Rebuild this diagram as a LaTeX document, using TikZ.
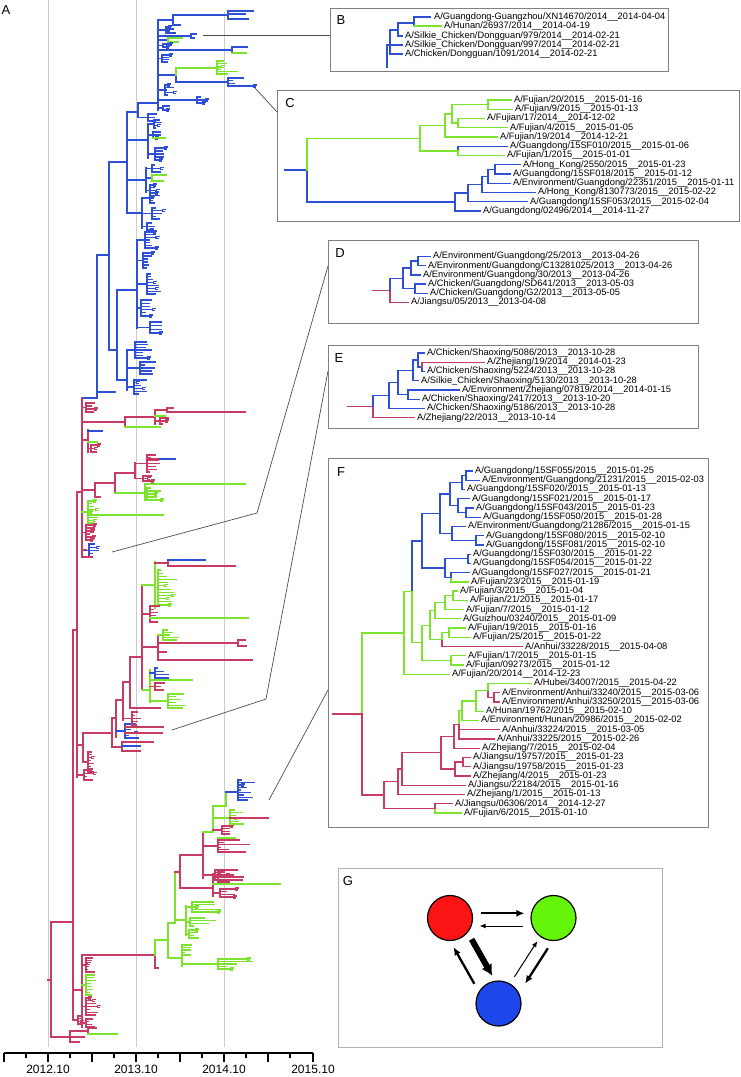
\documentclass[tikz,border=0pt]{standalone}
\usepackage{fontspec}
\setmainfont{Liberation Sans}
\usetikzlibrary{arrows.meta}

\definecolor{hblue}{RGB}{45,80,215}
\definecolor{hgreen}{RGB}{125,228,45}
\definecolor{hred}{RGB}{200,60,100}
\definecolor{popred}{RGB}{250,20,20}
\definecolor{popgreen}{RGB}{100,245,10}
\definecolor{popblue}{RGB}{30,70,235}

\newcommand{\taxfont}{\fontsize{9.3}{9.3}\selectfont}

% small clade: parent x, x, top, bottom, tips, max tip length, colour
\newcommand{\bush}[7]{%
  \pgfmathsetmacro{\bmid}{(#3+#4)/2}%
  \draw[twig,#7] (#1,\bmid) -- (#2,\bmid) (#2,#3) -- (#2,#4);
  \foreach \k in {1,...,#5}{%
    \pgfmathsetmacro{\tipy}{#3+(#4-#3)*(\k-1)/max(#5-1,1)}%
    \pgfmathsetmacro{\tipx}{#2+1.5+rnd*#6}%
    \draw[twig,#7] (#2,\tipy) -- (\tipx,\tipy);
    \pgfmathtruncatemacro{\fork}{rnd<0.25}%
    \ifnum\fork=1
      \draw[twig,#7] (\tipx,{\tipy-1}) -- (\tipx,{\tipy+1}) (\tipx,{\tipy-1}) -- ++(3,0) (\tipx,{\tipy+1}) -- ++(2,0);
    \fi
  }%
}

\begin{document}
\begin{tikzpicture}[
        x=1pt, y=-1pt,
        twig/.style={line width=1.05pt, line cap=rect},
        limb/.style={line width=1.3pt, line cap=rect},
        taxon/.style={anchor=west, inner sep=0pt, font=\taxfont},
        panel/.style={inner sep=0pt, font=\fontsize{13}{13}\selectfont},
        inset/.style={draw=black!50, line width=0.8pt, inner sep=0pt, anchor=north west},
        leader/.style={draw=black!70, line width=0.7pt},
        yearline/.style={draw=black!20, line width=1pt},
        axisrule/.style={line width=1.2pt},
        yearlab/.style={inner sep=0pt, font=\fontsize{12}{12}\selectfont},
        pop/.style={circle, draw=black, line width=1.2pt, minimum size=45pt, inner sep=0pt},
        flowthin/.style={-{Latex[length=6pt,width=5pt]}, line width=1pt},
        flowmid/.style={-{Latex[length=8pt,width=7pt]}, line width=2.3pt},
        flowthick/.style={-{Latex[length=11pt,width=12pt]}, line width=6pt},
        ]
        \useasboundingbox (0,0) rectangle (740,1077);
        \pgfmathsetseed{17}

        % Year lines and panel label
        \draw[yearline] (48,0) -- (48,1047);
        \draw[yearline] (136,0) -- (136,1047);
        \draw[yearline] (224,12) -- (224,1047);
        \node[panel] (labA) at (6,10) {A};

        % Blue clade
        \draw[twig,hblue] (82,398) -- (97,398) -- (97,255) -- (109,255);
        \draw[twig,hblue] (97,392) -- (115,392);
        \draw[twig,hblue] (109,162) -- (109,350);
        \draw[twig,hblue] (109,162) -- (127,162) (127,112) -- (127,213);
        \draw[twig,hblue] (127,112) -- (138,112) (138,103) -- (138,117);
        \bush{138}{148}{114}{121}{3}{8}{hblue}
        \draw[twig,hblue] (138,103) -- (158,103) (158,20) -- (158,110);
        \draw[twig,hblue] (158,20) -- (173,20) (173,15) -- (173,25) (173,15) -- (228,15) (228,11) -- (228,19)
            (228,11) -- (253,11) (228,14) -- (245,14) (228,19) -- (248,19) (173,25) -- (180,25);
        \bush{158}{166}{27}{33}{4}{12}{hblue}
        \draw[twig,hblue] (158,36) -- (191,36) (191,34) -- (191,38) (191,34) -- (196,34) (191,38) -- (194,38);
        \draw[twig,hblue] (158,40) -- (168,40);
        \draw[twig,hgreen] (168,38) -- (168,42) (168,38) -- (182,38) (168,42) -- (178,42);
        \bush{158}{163}{44}{47}{2}{6}{hblue}
        \draw[twig,hblue] (158,50) -- (232,50) (232,47) -- (232,53) (232,47) -- (247,47);
        \draw[twig,hgreen] (232,53) -- (246,53);
        \bush{158}{162}{55}{62}{4}{8}{hblue}
        \draw[twig,hblue] (158,75) -- (176,75) (176,75) -- (176,82) -- (228,82);
        \draw[twig,hgreen] (176,75) -- (176,68) -- (217,68);
        \bush{217}{217}{61}{74}{6}{28}{hgreen}
        \bush{228}{228}{78}{86}{4}{26}{hblue}
        \bush{158}{165}{85}{95}{5}{8}{hblue}
        \draw[twig,hblue] (158,100) -- (197,100);
        \bush{197}{197}{97}{103}{3}{8}{hblue}
        \bush{158}{163}{106}{110}{2}{6}{hblue}
        \draw[twig,hblue] (127,140) -- (148,140) (148,124) -- (148,158);
        \bush{148}{154}{120}{128}{4}{8}{hblue}
        \bush{148}{153}{132}{138}{3}{6}{hblue}
        \draw[twig,hgreen] (153,138) -- (165,138);
        \bush{148}{155}{148}{160}{5}{10}{hblue}
        \draw[twig,hblue] (127,180) -- (146,180) (146,168) -- (146,192);
        \bush{146}{152}{165}{172}{3}{8}{hblue}
        \draw[twig,hblue] (146,178) -- (152,178);
        \draw[twig,hgreen] (152,175) -- (152,181) (152,175) -- (166,175) (152,181) -- (163,181);
        \bush{146}{150}{185}{196}{5}{8}{hblue}
        \draw[twig,hblue] (127,213) -- (142,213) (142,198) -- (142,228);
        \bush{142}{150}{193}{203}{5}{8}{hblue}
        \bush{142}{152}{208}{219}{5}{10}{hblue}
        \bush{142}{147}{223}{230}{3}{8}{hblue}
        \draw[twig,hblue] (109,350) -- (117,350) (117,290) -- (117,380);
        \draw[twig,hblue] (117,290) -- (137,290) (137,240) -- (137,328);
        \bush{137}{145}{232}{248}{7}{12}{hblue}
        \bush{137}{143}{253}{268}{6}{10}{hblue}
        \bush{137}{147}{274}{294}{8}{12}{hblue}
        \bush{137}{141}{300}{316}{6}{10}{hblue}
        \bush{137}{150}{322}{333}{4}{12}{hblue}
        \draw[twig,hblue] (117,380) -- (127,380) (127,350) -- (127,390);
        \bush{127}{135}{342}{358}{7}{16}{hblue}
        \bush{127}{140}{362}{374}{5}{14}{hblue}
        \bush{127}{134}{380}{394}{6}{18}{hblue}

        % Backbone
        \draw[twig,hred] (48,980) -- (51,980) (51,922) -- (51,1037) (51,922) -- (73,922);
        \draw[twig,hred] (73,630) -- (73,1020) (73,630) -- (77,630);
        \draw[twig,hred] (77,492) -- (77,777) (77,492) -- (82,492) (82,398) -- (82,557);
        \bush{82}{86}{403}{412}{4}{8}{hred}

        % Red clades on the upper backbone
        \draw[twig,hred] (82,422) -- (125,422) (125,417) -- (125,427);
        \draw[twig,hred] (125,417) -- (155,417) (155,410) -- (155,424);
        \draw[twig,hred] (155,410) -- (167,410) (167,408) -- (167,412) (167,412) -- (245,412) (167,408) -- (173,408);
        \draw[twig,hgreen] (155,416) -- (165,416);
        \bush{155}{160}{418}{424}{3}{8}{hred}
        \draw[twig,hgreen] (125,427) -- (160,427);
        \draw[twig,hred] (82,440) -- (88,440) (88,430) -- (88,452);
        \draw[twig,hblue] (88,431) -- (102,431);
        \draw[twig,hgreen] (88,442) -- (97,442);
        \bush{88}{91}{445}{452}{3}{5}{hred}
        \draw[twig,hred] (82,490) -- (95,490) (95,483) -- (95,497) (95,497) -- (100,497);
        \draw[twig,hred] (95,483) -- (115,483) (115,473) -- (115,493);
        \draw[twig,hred] (115,473) -- (135,473) (135,463) -- (135,478);
        \bush{135}{147}{455}{472}{7}{14}{hred}
        \draw[twig,hred] (147,459) -- (160,459);
        \draw[twig,hblue] (160,459) -- (175,459);
        \bush{135}{143}{476}{481}{3}{8}{hred}
        \draw[twig,hgreen] (115,493) -- (145,493) (145,484) -- (145,500) (145,484) -- (245,484);
        \bush{145}{147}{488}{500}{5}{14}{hgreen}
        \draw[twig,hgreen] (82,512) -- (88,512);
        \bush{88}{88}{501}{523}{9}{8}{hgreen}
        \draw[twig,hgreen] (88,515) -- (163,515);
        \bush{82}{86}{525}{540}{6}{8}{hred}
        \draw[twig,hred] (82,550) -- (86,550);
        \bush{86}{89}{544}{557}{5}{9}{hblue}
        \draw[twig,hred] (82,557) -- (92,557);

        % Mixed clade 560-760
        \draw[twig,hred] (77,745) -- (83,745) (83,733) -- (83,762);
        \bush{83}{88}{752}{772}{8}{8}{hred}
        \bush{77}{84}{770}{780}{4}{8}{hred}
        \draw[twig,hred] (83,733) -- (112,733) (112,718) -- (112,747);
        \draw[twig,hred] (112,747) -- (122,747) (122,742) -- (122,751) (122,742) -- (153,742) (122,751) -- (140,751);
        \draw[twig,hblue] (122,746) -- (140,746);
        \draw[twig,hred] (112,718) -- (116,718) (116,700) -- (116,737);
        \bush{116}{125}{724}{738}{6}{16}{hblue}
        \draw[twig,hred] (125,727) -- (163,727) (125,733) -- (162,733);
        \draw[twig,hred] (116,700) -- (123,700) (123,682) -- (123,720);
        \bush{123}{132}{712}{725}{5}{10}{hred}
        \draw[twig,hred] (123,682) -- (130,682) (130,657) -- (130,708) (130,708) -- (160,708);
        \draw[twig,hred] (130,657) -- (142,657) (142,585) -- (142,690);
        \draw[twig,hgreen] (142,585) -- (155,585) (155,562) -- (155,608);
        \draw[twig,hred] (155,563) -- (168,563) (168,560) -- (168,566) (168,566) -- (235,566);
        \draw[twig,hblue] (168,560) -- (205,560);
        \bush{155}{158}{570}{605}{12}{18}{hgreen}
        \draw[twig,hred] (142,614) -- (150,614);
        \bush{150}{150}{606}{622}{6}{10}{hred}
        \draw[twig,hgreen] (150,618) -- (248,618);
        \draw[twig,hred] (142,647) -- (158,647) (158,635) -- (158,660);
        \bush{158}{163}{630}{640}{5}{18}{hgreen}
        \draw[twig,hred] (158,643) -- (238,643) (238,640) -- (238,646) (238,640) -- (245,640) (238,646) -- (246,646);
        \draw[twig,hred] (158,652) -- (166,652) (158,660) -- (252,660);
        \draw[twig,hgreen] (142,690) -- (150,690) (150,670) -- (150,702);
        \bush{150}{155}{668}{678}{4}{14}{hblue}
        \draw[twig,hgreen] (150,680) -- (192,680);
        \bush{150}{155}{683}{690}{3}{12}{hred}
        \bush{150}{168}{694}{708}{6}{18}{hgreen}

        % Lower clades
        \draw[twig,hred] (73,990) -- (82,990) (82,955) -- (82,1027);
        \bush{82}{86}{958}{972}{6}{8}{hred}
        \bush{82}{86}{975}{995}{8}{10}{hgreen}
        \bush{82}{86}{998}{1015}{7}{10}{hred}
        \bush{82}{86}{1019}{1027}{4}{8}{hred}
        \bush{73}{78}{1016}{1024}{4}{8}{hred}
        \draw[twig,hred] (51,1037) -- (70,1037) (70,1031) -- (70,1042) (70,1031) -- (88,1031) (88,1028) -- (88,1034)
            (88,1028) -- (96,1028) (70,1037) -- (84,1037) (70,1042) -- (79,1042);
        \draw[twig,hgreen] (88,1034) -- (117,1034);
        \draw[twig,hred] (82,955) -- (155,955) (155,955) -- (155,968) -- (158,968);
        \draw[twig,hgreen] (155,955) -- (155,940) -- (168,940) (168,923) -- (168,958);
        \draw[twig,hgreen] (168,958) -- (182,958) (182,948) -- (182,966);
        \bush{182}{182}{945}{955}{5}{12}{hgreen}
        \draw[twig,hgreen] (182,964) -- (218,964);
        \bush{218}{218}{959}{969}{5}{35}{hgreen}
        \draw[twig,hgreen] (168,923) -- (175,923) (175,872) -- (175,923) (175,920) -- (186,920) (186,906) -- (186,935);
        \bush{186}{192}{902}{912}{5}{40}{hgreen}
        \bush{186}{190}{918}{926}{4}{30}{hgreen}
        \bush{186}{189}{930}{938}{4}{8}{hgreen}
        \draw[twig,hred] (175,872) -- (180,872) (180,855) -- (180,888);
        \draw[twig,hred] (180,888) -- (213,888) (213,874) -- (213,896);
        \bush{213}{218}{872}{882}{5}{25}{hred}
        \draw[twig,hgreen] (213,884) -- (280,884);
        \bush{213}{220}{889}{897}{4}{15}{hred}
        \draw[twig,hred] (180,855) -- (203,855) (203,832) -- (203,878);
        \bush{203}{215}{870}{880}{5}{28}{hred}
        \bush{203}{218}{840}{852}{6}{30}{hred}
        \draw[twig,hgreen] (218,838) -- (235,838);
        \draw[twig,hgreen] (203,832) -- (213,832) (213,806) -- (213,832);
        \bush{213}{222}{826}{834}{4}{8}{hred}
        \draw[twig,hgreen] (213,818) -- (230,818);
        \bush{230}{230}{810}{824}{6}{15}{hgreen}
        \draw[twig,hred] (230,818) -- (268,818);
        \draw[twig,hgreen] (213,806) -- (226,806) (226,792) -- (226,806);
        \draw[twig,hblue] (226,792) -- (238,792);
        \bush{238}{238}{780}{800}{9}{16}{hblue}

        % Time axis
        \draw[axisrule] (4,1053) -- (313,1053);
        \foreach \x in {4,48,92,136,180,224,268,313}
            \draw[axisrule] (\x,1053) -- (\x,1062);
        \foreach \x in {26,70,114,158,202,246,290}
            \draw[axisrule] (\x,1053) -- (\x,1058);
        \node[yearlab] (yr2012) at (48,1069) {2012.10};
        \node[yearlab] (yr2013) at (136,1069) {2013.10};
        \node[yearlab] (yr2014) at (224,1069) {2014.10};
        \node[yearlab] (yr2015) at (313,1069) {2015.10};

        % Inset boxes
        \node[inset, minimum width=338pt, minimum height=63pt] (boxB) at (330,8) {};
        \node[inset, minimum width=462pt, minimum height=131pt] (boxC) at (277,90) {};
        \node[inset, minimum width=370pt, minimum height=83pt] (boxD) at (328,240) {};
        \node[inset, minimum width=370pt, minimum height=83pt] (boxE) at (328,345) {};
        \node[inset, minimum width=380pt, minimum height=369pt] (boxF) at (328,458) {};
        \node[inset, draw=black!30, minimum width=324pt, minimum height=179pt] (boxG) at (338,868) {};
        \node[panel] (labB) at (341,20) {B};
        \node[panel] (labC) at (290,103) {C};
        \node[panel] (labD) at (340,253) {D};
        \node[panel] (labE) at (339,358) {E};
        \node[panel] (labF) at (341,472) {F};
        \node[panel] (labG) at (348,881) {G};

        % Leaders
        \coordinate (bTip) at (203,35);
        \coordinate (bEnd) at (330,35);
        \coordinate (cTip) at (255,88);
        \coordinate (cEnd) at (277,112);
        \coordinate (dTip) at (112,552);
        \coordinate (dBend) at (257,513);
        \coordinate (dEnd) at (328,266);
        \coordinate (eTip) at (172,730);
        \coordinate (eBend) at (266,699);
        \coordinate (eEnd) at (328,371);
        \coordinate (fTip) at (269,800);
        \coordinate (fEnd) at (328,690);
        \draw[leader] (bTip) -- (bEnd);
        \draw[leader] (cTip) -- (cEnd);
        \draw[leader] (dTip) -- (dBend) -- (dEnd);
        \draw[leader] (eTip) -- (eBend) -- (eEnd);
        \draw[leader] (fTip) -- (fEnd);

        % Inset B
        \draw[limb,hblue] (387,67) -- (387,45) -- (390,45);
        \draw[limb,hblue] (402,54) -- (390,54) -- (390,30) -- (398,30) (390,45) -- (402,45);
        \draw[limb,hblue] (402,36) -- (398,36) -- (398,23) -- (414,23);
        \draw[limb,hblue] (430,17) -- (414,17) -- (414,26);
        \draw[limb,hgreen] (414,26) -- (441,26);
        \node[taxon] (b1) at (434,17) {A/Guangdong-Guangzhou/XN14670/2014\_\_2014-04-04};
        \node[taxon] (b2) at (444,26) {A/Hunan/26937/2014\_\_2014-04-19};
        \node[taxon] (b3) at (405,36) {A/Silkie\_Chicken/Dongguan/979/2014\_\_2014-02-21};
        \node[taxon] (b4) at (405,45) {A/Silkie\_Chicken/Dongguan/997/2014\_\_2014-02-21};
        \node[taxon] (b5) at (405,54) {A/Chicken/Dongguan/1091/2014\_\_2014-02-21};

        % Inset C
        \draw[limb,hblue] (285,170) -- (307,170) -- (307,202) -- (455,202);
        \draw[limb,hgreen] (307,170) -- (307,138.2) -- (420,138.2);
        \draw[limb,hgreen] (445,125.4) -- (420,125.4) -- (420,150.9) -- (458,150.9);
        \draw[limb,hgreen] (452,113.9) -- (445,113.9) -- (445,137) -- (497,137);
        \draw[limb,hgreen] (488,104.6) -- (452,104.6) -- (452,123.1) -- (458,123.1);
        \draw[limb,hgreen] (511,100) -- (488,100) -- (488,109.25) -- (512,109.25);
        \draw[limb,hgreen] (484,118.5) -- (458,118.5) -- (458,127.75) -- (507,127.75);
        \draw[limb,hblue] (507,146.25) -- (458,146.25) -- (458,150.9);
        \draw[limb,hgreen] (458,150.9) -- (458,155.5) -- (504,155.5);
        \draw[limb,hblue] (468,193.1) -- (455,193.1) -- (455,211) -- (480,211);
        \draw[limb,hblue] (482,184.4) -- (468,184.4) -- (468,201.75) -- (527,201.75);
        \draw[limb,hblue] (488,176.3) -- (482,176.3) -- (482,192.5) -- (535,192.5);
        \draw[limb,hblue] (495,169.4) -- (488,169.4) -- (488,183.25) -- (510,183.25);
        \draw[limb,hblue] (520,164.75) -- (495,164.75) -- (495,174) -- (510,174);
        \node[taxon] (c1) at (514,100) {A/Fujian/20/2015\_\_2015-01-16};
        \node[taxon] (c2) at (515,109.25) {A/Fujian/9/2015\_\_2015-01-13};
        \node[taxon] (c3) at (487,118.5) {A/Fujian/17/2014\_\_2014-12-02};
        \node[taxon] (c4) at (510,127.75) {A/Fujian/4/2015\_\_2015-01-05};
        \node[taxon] (c5) at (500,137) {A/Fujian/19/2014\_\_2014-12-21};
        \node[taxon] (c6) at (510,146.25) {A/Guangdong/15SF010/2015\_\_2015-01-06};
        \node[taxon] (c7) at (507,155.5) {A/Fujian/1/2015\_\_2015-01-01};
        \node[taxon] (c8) at (523,164.75) {A/Hong\_Kong/2550/2015\_\_2015-01-23};
        \node[taxon] (c9) at (513,174) {A/Guangdong/15SF018/2015\_\_2015-01-12};
        \node[taxon] (c10) at (513,183.25) {A/Environment/Guangdong/22351/2015\_\_2015-01-11};
        \node[taxon] (c11) at (538,192.5) {A/Hong\_Kong/8130773/2015\_\_2015-02-22};
        \node[taxon] (c12) at (530,201.75) {A/Guangdong/15SF053/2015\_\_2015-02-04};
        \node[taxon] (c13) at (483,211) {A/Guangdong/02496/2014\_\_2014-11-27};

        % Inset D
        \draw[limb,hred] (373,290.4) -- (390,290.4) -- (390,302.5) -- (408,302.5);
        \draw[limb,hblue] (390,290.4) -- (390,278.4) -- (403,278.4);
        \draw[limb,hblue] (411,268) -- (403,268) -- (403,288.7) -- (415,288.7);
        \draw[limb,hblue] (418,261.1) -- (411,261.1) -- (411,274.9) -- (420,274.9);
        \draw[limb,hblue] (430,256.5) -- (418,256.5) -- (418,265.7) -- (425,265.7);
        \draw[limb,hblue] (425,284.1) -- (415,284.1) -- (415,293.3) -- (427,293.3);
        \node[taxon] (d1) at (433,256.5) {A/Environment/Guangdong/25/2013\_\_2013-04-26};
        \node[taxon] (d2) at (428,265.7) {A/Environment/Guangdong/C13281025/2013\_\_2013-04-26};
        \node[taxon] (d3) at (423,274.9) {A/Environment/Guangdong/30/2013\_\_2013-04-26};
        \node[taxon] (d4) at (428,284.1) {A/Chicken/Guangdong/SD641/2013\_\_2013-05-03};
        \node[taxon] (d5) at (430,293.3) {A/Chicken/Guangdong/G2/2013\_\_2013-05-05};
        \node[taxon] (d6) at (411,302.5) {A/Jiangsu/05/2013\_\_2013-04-08};

        % Inset E
        \draw[limb,hred] (348,406.6) -- (373,406.6) -- (373,417.75) -- (414,417.75);
        \draw[limb,hblue] (373,406.6) -- (373,395.5) -- (389,395.5);
        \draw[limb,hblue] (398,382.5) -- (389,382.5) -- (389,408.5) -- (424,408.5);
        \draw[limb,hblue] (413,370.4) -- (398,370.4) -- (398,394.6) -- (408,394.6);
        \draw[limb,hblue] (459,390) -- (408,390) -- (408,399.25) -- (419,399.25);
        \draw[limb,hblue] (418,360) -- (413,360) -- (413,380.75) -- (418,380.75);
        \draw[limb,hblue] (424,353) -- (418,353) -- (418,366.9) -- (422,366.9);
        \draw[limb,hblue] (422,366.9) -- (422,371.5) -- (424,371.5);
        \draw[limb,hred] (422,366.9) -- (422,362.25) -- (484,362.25);
        \node[taxon] (e1) at (427,353) {A/Chicken/Shaoxing/5086/2013\_\_2013-10-28};
        \node[taxon] (e2) at (487,362.25) {A/Zhejiang/19/2014\_\_2014-01-23};
        \node[taxon] (e3) at (427,371.5) {A/Chicken/Shaoxing/5224/2013\_\_2013-10-28};
        \node[taxon] (e4) at (421,380.75) {A/Silkie\_Chicken/Shaoxing/5130/2013\_\_2013-10-28};
        \node[taxon] (e5) at (462,390) {A/Environment/Zhejiang/07819/2014\_\_2014-01-15};
        \node[taxon] (e6) at (422,399.25) {A/Chicken/Shaoxing/2417/2013\_\_2013-10-20};
        \node[taxon] (e7) at (427,408.5) {A/Chicken/Shaoxing/5186/2013\_\_2013-10-28};
        \node[taxon] (e8) at (417,417.75) {A/Zhejiang/22/2013\_\_2013-10-14};

        % Inset F
        \draw[limb,hblue] (472,471) -- (466,471) -- (466,480.24) -- (479,480.24);
        \draw[limb,hblue] (466,475.62) -- (462,475.62) -- (462,489.48) -- (464,489.48);
        \draw[limb,hblue] (473,507.96) -- (466,507.96) -- (466,517.2) -- (480,517.2);
        \draw[limb,hblue] (469,498.72) -- (458,498.72) -- (458,512.58) -- (466,512.58);
        \draw[limb,hblue] (462,482.55) -- (450,482.55) -- (450,505.65) -- (458,505.65);
        \draw[limb,hblue] (483,535.68) -- (476,535.68) -- (476,544.92) -- (483,544.92);
        \draw[limb,hblue] (465,526.44) -- (452,526.44) -- (452,540.3) -- (476,540.3);
        \draw[limb,hblue] (450,494.1) -- (440,494.1) -- (440,533.37) -- (452,533.37);
        \draw[limb,hblue] (470,554.16) -- (468,554.16) -- (468,563.4) -- (470,563.4);
        \draw[limb,hblue] (469,572.64) -- (451,572.64) -- (451,577.26);
        \draw[limb,hgreen] (451,577.26) -- (451,581.88) -- (468,581.88);
        \draw[limb,hblue] (468,558.78) -- (445,558.78) -- (445,577.26) -- (451,577.26);
        \draw[limb,hblue] (440,513.7) -- (422,513.7) -- (422,568.02) -- (445,568.02);
        \draw[limb,hblue] (422,540.86) -- (412,540.86) -- (412,591.84);
        \draw[limb,hgreen] (412,591.84) -- (412,642.81) -- (422,642.81);
        \draw[limb,hgreen] (457,591.12) -- (453,591.12) -- (453,600.36) -- (467,600.36);
        \draw[limb,hgreen] (453,595.74) -- (445,595.74) -- (445,609.6) -- (463,609.6);
        \draw[limb,hgreen] (445,602.67) -- (435,602.67) -- (435,618.84) -- (460,618.84);
        \draw[limb,hgreen] (465,628.08) -- (449,628.08) -- (449,637.32) -- (470,637.32);
        \draw[limb,hgreen] (449,632.7) -- (442,632.7) -- (442,639.63);
        \draw[limb,hred] (442,639.63) -- (442,646.56) -- (522,646.56);
        \draw[limb,hgreen] (435,610.76) -- (430,610.76) -- (430,639.63) -- (442,639.63);
        \draw[limb,hgreen] (465,655.8) -- (451,655.8) -- (451,665.04) -- (463,665.04);
        \draw[limb,hgreen] (430,625.2) -- (422,625.2) -- (422,660.42) -- (451,660.42);
        \draw[limb,hgreen] (412,591.84) -- (404,591.84) -- (404,674.28) -- (449,674.28);
        \draw[limb,hgreen] (404,633.06) -- (362,633.06) -- (362,714);
        \draw[limb,hred] (333,714) -- (362,714) -- (362,794.97) -- (384,794.97);
        \draw[limb,hred] (499,692.76) -- (494,692.76) -- (494,702) -- (499,702);
        \draw[limb,hgreen] (531,683.52) -- (488,683.52) -- (488,690.45);
        \draw[limb,hred] (488,690.45) -- (488,697.38) -- (494,697.38);
        \draw[limb,hgreen] (488,690.45) -- (476,690.45) -- (476,711.24) -- (483,711.24);
        \draw[limb,hgreen] (476,700.85) -- (462,700.85) -- (462,720.48) -- (478,720.48);
        \draw[limb,hgreen] (462,710.66) -- (459,710.66) -- (459,724.8);
        \draw[limb,hred] (459,724.8) -- (459,738.96) -- (494,738.96) (459,729.72) -- (499,729.72);
        \draw[limb,hred] (459,724.8) -- (454,724.8) -- (454,748.2) -- (479,748.2);
        \draw[limb,hred] (470,757.44) -- (463,757.44) -- (463,766.68) -- (470,766.68);
        \draw[limb,hred] (463,762.06) -- (455,762.06) -- (455,775.92) -- (470,775.92);
        \draw[limb,hred] (454,736.5) -- (441,736.5) -- (441,769) -- (455,769);
        \draw[limb,hred] (441,752.75) -- (402,752.75) -- (402,785.16) -- (465,785.16);
        \draw[limb,hred] (402,768.96) -- (398,768.96) -- (398,794.4) -- (464,794.4);
        \draw[limb,hred] (452,803.64) -- (435,803.64) -- (435,808.26);
        \draw[limb,hgreen] (435,808.26) -- (435,812.88) -- (461,812.88);
        \draw[limb,hred] (398,781.68) -- (384,781.68) -- (384,808.26) -- (435,808.26);
        \node[taxon] (f1) at (475,471) {A/Guangdong/15SF055/2015\_\_2015-01-25};
        \node[taxon] (f2) at (482,480.24) {A/Environment/Guangdong/21231/2015\_\_2015-02-03};
        \node[taxon] (f3) at (467,489.48) {A/Guangdong/15SF020/2015\_\_2015-01-13};
        \node[taxon] (f4) at (472,498.72) {A/Guangdong/15SF021/2015\_\_2015-01-17};
        \node[taxon] (f5) at (476,507.96) {A/Guangdong/15SF043/2015\_\_2015-01-23};
        \node[taxon] (f6) at (483,517.2) {A/Guangdong/15SF050/2015\_\_2015-01-28};
        \node[taxon] (f7) at (468,526.44) {A/Environment/Guangdong/21286/2015\_\_2015-01-15};
        \node[taxon] (f8) at (486,535.68) {A/Guangdong/15SF080/2015\_\_2015-02-10};
        \node[taxon] (f9) at (486,544.92) {A/Guangdong/15SF081/2015\_\_2015-02-10};
        \node[taxon] (f10) at (473,554.16) {A/Guangdong/15SF030/2015\_\_2015-01-22};
        \node[taxon] (f11) at (473,563.4) {A/Guangdong/15SF054/2015\_\_2015-01-22};
        \node[taxon] (f12) at (472,572.64) {A/Guangdong/15SF027/2015\_\_2015-01-21};
        \node[taxon] (f13) at (471,581.88) {A/Fujian/23/2015\_\_2015-01-19};
        \node[taxon] (f14) at (460,591.12) {A/Fujian/3/2015\_\_2015-01-04};
        \node[taxon] (f15) at (470,600.36) {A/Fujian/21/2015\_\_2015-01-17};
        \node[taxon] (f16) at (466,609.6) {A/Fujian/7/2015\_\_2015-01-12};
        \node[taxon] (f17) at (463,618.84) {A/Guizhou/03240/2015\_\_2015-01-09};
        \node[taxon] (f18) at (468,628.08) {A/Fujian/19/2015\_\_2015-01-16};
        \node[taxon] (f19) at (473,637.32) {A/Fujian/25/2015\_\_2015-01-22};
        \node[taxon] (f20) at (525,646.56) {A/Anhui/33228/2015\_\_2015-04-08};
        \node[taxon] (f21) at (468,655.8) {A/Fujian/17/2015\_\_2015-01-15};
        \node[taxon] (f22) at (466,665.04) {A/Fujian/09273/2015\_\_2015-01-12};
        \node[taxon] (f23) at (452,674.28) {A/Fujian/20/2014\_\_2014-12-23};
        \node[taxon] (f24) at (534,683.52) {A/Hubei/34007/2015\_\_2015-04-22};
        \node[taxon] (f25) at (502,692.76) {A/Environment/Anhui/33240/2015\_\_2015-03-06};
        \node[taxon] (f26) at (502,702) {A/Environment/Anhui/33250/2015\_\_2015-03-06};
        \node[taxon] (f27) at (486,711.24) {A/Hunan/19762/2015\_\_2015-02-10};
        \node[taxon] (f28) at (481,720.48) {A/Environment/Hunan/20986/2015\_\_2015-02-02};
        \node[taxon] (f29) at (502,729.72) {A/Anhui/33224/2015\_\_2015-03-05};
        \node[taxon] (f30) at (497,738.96) {A/Anhui/33225/2015\_\_2015-02-26};
        \node[taxon] (f31) at (482,748.2) {A/Zhejiang/7/2015\_\_2015-02-04};
        \node[taxon] (f32) at (473,757.44) {A/Jiangsu/19757/2015\_\_2015-01-23};
        \node[taxon] (f33) at (473,766.68) {A/Jiangsu/19758/2015\_\_2015-01-23};
        \node[taxon] (f34) at (473,775.92) {A/Zhejiang/4/2015\_\_2015-01-23};
        \node[taxon] (f35) at (468,785.16) {A/Jiangsu/22184/2015\_\_2015-01-16};
        \node[taxon] (f36) at (467,794.4) {A/Zhejiang/1/2015\_\_2015-01-13};
        \node[taxon] (f37) at (455,803.64) {A/Jiangsu/06306/2014\_\_2014-12-27};
        \node[taxon] (f38) at (464,812.88) {A/Fujian/6/2015\_\_2015-01-10};

        % Inset G: transmission between hosts
        \node[pop, fill=popred] (redpop) at (450,918) {};
        \node[pop, fill=popgreen] (greenpop) at (553.5,918) {};
        \node[pop, fill=popblue] (bluepop) at (498.5,1003.5) {};
        \draw[flowmid, shorten <=8pt, shorten >=6pt, transform canvas={shift={(0pt,4.7pt)}}] (redpop) -- (greenpop);
        \draw[flowthin, shorten <=7pt, shorten >=6.5pt, transform canvas={shift={(0pt,-8pt)}}] (greenpop) -- (redpop);
        \draw[flowthick, shorten <=6pt, shorten >=4pt, transform canvas={shift={(7.2pt,4.1pt)}}] (redpop) -- (bluepop);
        \draw[flowmid, shorten <=6pt, shorten >=4pt, transform canvas={shift={(-9.8pt,-5.6pt)}}] (bluepop) -- (redpop);
        \draw[flowmid, shorten <=5.4pt, shorten >=8pt, transform canvas={shift={(9.8pt,-6.3pt)}}] (greenpop) -- (bluepop);
        \draw[flowthin, shorten <=8pt, shorten >=5pt, transform canvas={shift={(-0.9pt,0.6pt)}}] (bluepop) -- (greenpop);
    \end{tikzpicture}
\end{document}
